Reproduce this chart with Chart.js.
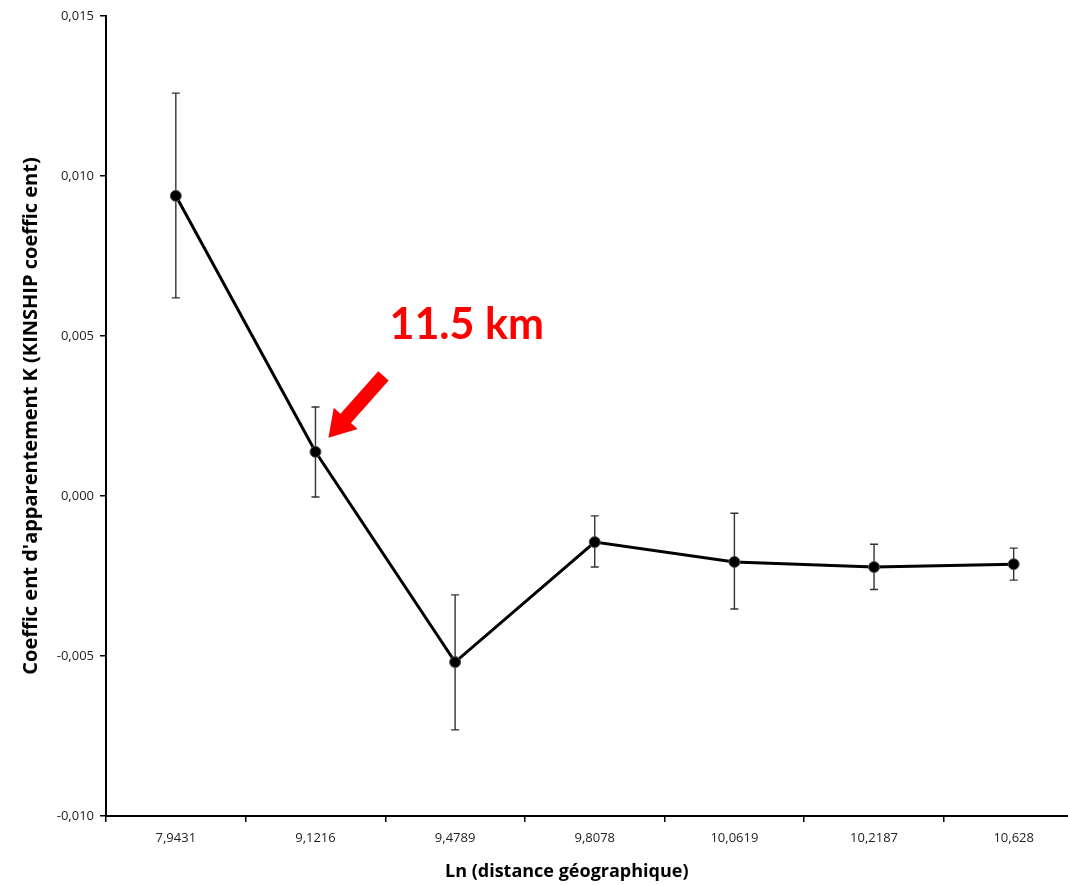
<!DOCTYPE html>
<html>
<head>
<meta charset="utf-8">
<script src="https://cdn.jsdelivr.net/npm/chart.js@4.4.0/dist/chart.umd.min.js"></script>
<style>
  html, body { margin: 0; padding: 0; background: #fff; overflow: hidden; }
  #wrap { position: relative; width: 1090px; height: 885px; }
</style>
</head>
<body>
<div id="wrap"><canvas id="chartKinship"></canvas></div>
<script>
// distances (ln) et coefficient de parenté
const distLabels = ['7,9431', '9,1216', '9,4789', '9,8078', '10,0619', '10,2187', '10,628'];
const kinship = [0.00938, 0.00138, -0.00519, -0.00144, -0.00206, -0.00222, -0.00213];
const errHigh = [0.01259, 0.00278, -0.00309, -0.00062, -0.00054, -0.00151, -0.00163];
const errLow = [0.00619, -0.00003, -0.00731, -0.00222, -0.00353, -0.00292, -0.00263];
const yTicks = [-0.010, -0.005, 0.000, 0.005, 0.010, 0.015];
const noteText = '11.5 km';
const noteIndex = 1;
const xTitle = 'Ln (distance géographique)';

const fontFam = '"Open Sans", Lato, sans-serif';

// barres d'erreur + flèche rouge + titre x
const errorBars = {
  id: 'errorBars',
  beforeDatasetsDraw(chart) {
    const ctx = chart.ctx;
    const x = chart.scales.x, y = chart.scales.y;
    ctx.save();
    ctx.strokeStyle = '#333';
    ctx.lineWidth = 1.4;
    kinship.forEach((v, i) => {
      const px = x.getPixelForValue(i);
      const top = y.getPixelForValue(errHigh[i]);
      const bot = y.getPixelForValue(errLow[i]);
      ctx.beginPath();
      ctx.moveTo(px, top); ctx.lineTo(px, bot);
      ctx.moveTo(px - 4, top); ctx.lineTo(px + 4, top);
      ctx.moveTo(px - 4, bot); ctx.lineTo(px + 4, bot);
      ctx.stroke();
    });
    ctx.restore();
  },
  afterDatasetsDraw(chart) {
    const ctx = chart.ctx;
    const px = chart.scales.x.getPixelForValue(noteIndex);
    const py = chart.scales.y.getPixelForValue(kinship[noteIndex]);
    // flèche
    const tipX = px + 13, tipY = py - 14;
    const tailX = px + 68, tailY = py - 76;
    const ang = Math.atan2(tipY - tailY, tipX - tailX);
    const len = Math.hypot(tipX - tailX, tipY - tailY);
    const headLen = 26, headW = 16, shaftW = 7;
    ctx.save();
    ctx.translate(tailX, tailY);
    ctx.rotate(ang);
    ctx.fillStyle = '#ff0000';
    ctx.beginPath();
    ctx.moveTo(0, -shaftW);
    ctx.lineTo(len - headLen, -shaftW);
    ctx.lineTo(len - headLen, -headW);
    ctx.lineTo(len, 0);
    ctx.lineTo(len - headLen, headW);
    ctx.lineTo(len - headLen, shaftW);
    ctx.lineTo(0, shaftW);
    ctx.closePath();
    ctx.fill();
    ctx.restore();
    // texte
    ctx.save();
    ctx.fillStyle = '#ff0000';
    ctx.font = 'bold 43px Lato, sans-serif';
    ctx.textAlign = 'left';
    ctx.textBaseline = 'alphabetic';
    ctx.fillText(noteText, px + 74, py - 113);
    ctx.restore();
    // titre axe x
    const ca = chart.chartArea;
    ctx.save();
    ctx.fillStyle = '#000';
    ctx.font = 'bold 18px ' + fontFam;
    ctx.textAlign = 'center';
    ctx.textBaseline = 'middle';
    ctx.fillText(xTitle, (ca.left + ca.right) / 2 - 28, chart.height - 13);
    ctx.restore();
  }
};

const ctx = document.getElementById('chartKinship').getContext('2d');
new Chart(ctx, {
  type: 'line',
  data: {
    labels: distLabels,
    datasets: [{
      data: kinship,
      borderColor: '#000',
      borderWidth: 3,
      backgroundColor: '#000',
      pointBackgroundColor: '#000',
      pointBorderColor: '#555',
      pointBorderWidth: 1,
      pointRadius: 5.5,
      tension: 0,
      fill: false
    }]
  },
  options: {
    responsive: true,
    maintainAspectRatio: false,
    animation: false,
    layout: { padding: { top: 16, right: 4, left: 0, bottom: 0 } },
    plugins: { legend: { display: false }, tooltip: { enabled: false } },
    scales: {
      x: {
        offset: true,
        grid: { offset: true, drawOnChartArea: false, drawTicks: true, tickLength: 6, color: '#000', lineWidth: 1.5 },
        border: { color: '#000', width: 2 },
        ticks: { color: '#222', font: { family: fontFam, size: 13 }, padding: 8, maxRotation: 0 },
        afterFit(scale) { scale.height = 69; }
      },
      y: {
        min: -0.010,
        max: 0.015,
        afterBuildTicks(scale) { scale.ticks = yTicks.map(v => ({ value: v })); },
        grid: { drawOnChartArea: false, drawTicks: true, tickLength: 6, color: '#000', lineWidth: 1.5 },
        border: { color: '#000', width: 2 },
        ticks: {
          color: '#222',
          font: { family: fontFam, size: 13 },
          padding: 6,
          callback: v => v.toFixed(3).replace('.', ',')
        },
        title: { display: true, text: "Coeffic ent d'apparentement K (KINSHIP coeffic ent)", color: '#000', font: { family: fontFam, size: 20, weight: 'bold' }, padding: { top: 19, bottom: 4 } },
        afterFit(scale) { scale.width = 106; }
      }
    }
  },
  plugins: [errorBars]
});
</script>
</body>
</html>
